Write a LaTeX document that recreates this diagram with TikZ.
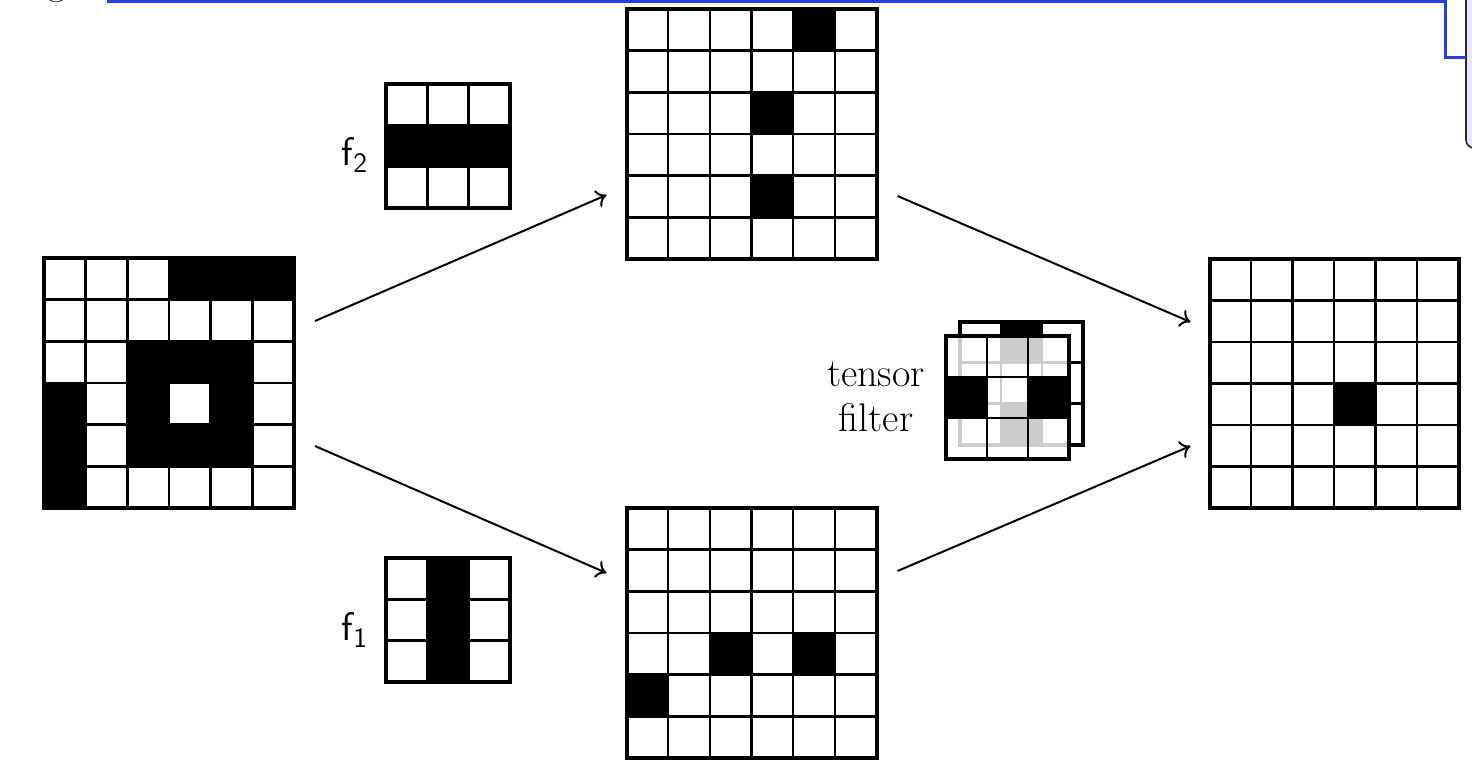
\documentclass[tikz,border=0pt]{standalone}
\usetikzlibrary{calc,arrows.meta}
\definecolor{boxblue}{RGB}{35,60,250}
\definecolor{lav}{RGB}{230,230,250}
\newcommand\pixgrid[7]{%
  % #1 name, #2 cx, #3 cy, #4 n, #5 size, #6 black cells, #7 background style
  \pgfmathsetmacro\cellsz{#5/#4}%
  \begin{scope}[shift={({#2-#5/2},{#3-#5/2})}]
    \fill[white,#7] (0,0) rectangle (#5,#5);
    \foreach \cc/\rr in {#6} \fill[black] ({\cc*\cellsz},{\rr*\cellsz}) rectangle ++(\cellsz,\cellsz);
    \foreach \ii in {1,...,#4} \draw[innerline] ({\ii*\cellsz},0) -- ({\ii*\cellsz},#5) (0,{\ii*\cellsz}) -- (#5,{\ii*\cellsz});
  \end{scope}
  \node[gridnode, minimum size=#5*0.5pt] (#1) at (#2,#3) {};
}
\begin{document}
\begin{tikzpicture}[x=0.5pt,y=-0.5pt,
  gridnode/.style={draw=black, line width=2pt, inner sep=0pt, outer sep=0pt, rectangle},
  innerline/.style={line width=1.3pt},
  conn/.style={line width=1pt, -{To[length=5pt,width=9pt]}},
  lbl/.style={font=\sffamily\fontsize{20}{23}\selectfont},
  tlbl/.style={font=\fontsize{20}{22.5}\selectfont, align=center}]
\useasboundingbox (0,0) rectangle (1472,776);

% partial elements at the top edge
\node[font=\fontsize{20}{24}\selectfont, anchor=base] (gfrag) at (57,-5) {g};
\draw[fill=lav, draw=black!85, line width=0.8pt, rounded corners=4pt] (1466,-20) rectangle (1530,148);
\coordinate (bl0) at (107,1);
\coordinate (bl1) at (1466,57);
\draw[line width=1.5pt, boxblue] (bl0) -- (1445,1) -- (1445,57) -- (bl1);

% grids
\pixgrid{in}{169}{383}{6}{250}{3/0,4/0,5/0,2/2,3/2,4/2,0/3,2/3,4/3,0/4,2/4,3/4,4/4,0/5}{}
\pixgrid{top}{751.5}{134}{6}{250}{4/0,3/2,3/4}{}
\pixgrid{bot}{751.5}{633}{6}{250}{2/3,4/3,0/4}{}
\pixgrid{out}{1334}{383.5}{6}{249}{3/3}{}
\pixgrid{ftwo}{448}{146}{3}{124}{0/1,1/1,2/1}{}
\pixgrid{fone}{448}{620}{3}{124}{1/0,1/1,1/2}{}

% tensor filter
\pixgrid{tb}{1021.5}{383}{3}{123}{1/0,1/2}{}
\tikzset{innerline/.style={line width=1pt}}
\pixgrid{tf}{1007.5}{397.5}{3}{123}{0/1,2/1}{fill opacity=0.8}

% labels
\node[lbl] (f2lab) at (355,155) {f\textsubscript{2}};
\node[lbl] (f1lab) at (355,630) {f\textsubscript{1}};
\node[tlbl] (tlab) at (876,397) {tensor\\filter};

% connectors
\draw[conn] ($(in.east)+(21,-62)$) -- ($(top.west)+(-20,61)$);
\draw[conn] ($(in.east)+(21,63)$) -- ($(bot.west)+(-20,-60)$);
\draw[conn] ($(top.east)+(21,62)$) -- ($(out.west)+(-19,-61.5)$);
\draw[conn] ($(bot.east)+(21,-62)$) -- ($(out.west)+(-19,62.5)$);
\end{tikzpicture}
\end{document}
